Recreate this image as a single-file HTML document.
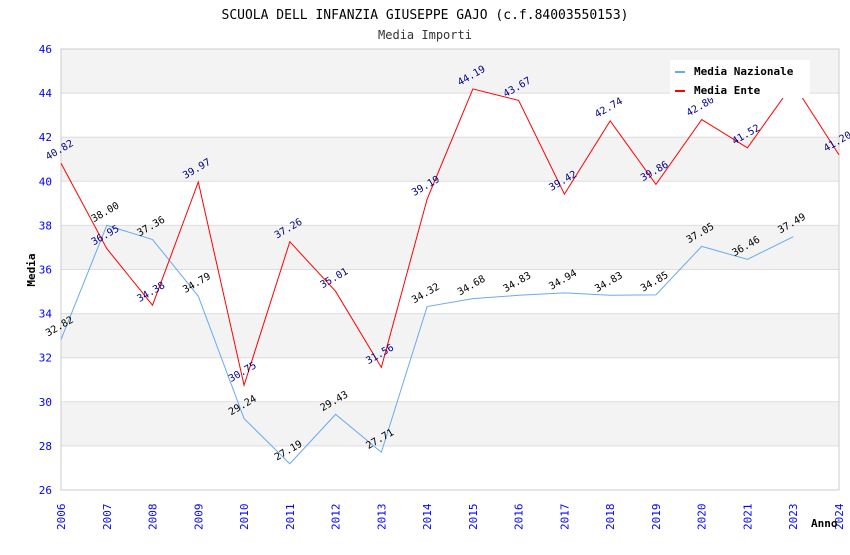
<!DOCTYPE html>
<html><head><meta charset="utf-8"><style>
body{margin:0;background:#fff;width:850px;height:550px;overflow:hidden}
svg text{font-family:"DejaVu Sans Mono","Liberation Mono",monospace}
</style></head><body>
<svg id="chart" width="850" height="550" xmlns="http://www.w3.org/2000/svg">
<text x="425" y="19" text-anchor="middle" font-size="13" fill="#000">SCUOLA DELL INFANZIA GIUSEPPE GAJO (c.f.84003550153)</text>
<text x="425" y="39" text-anchor="middle" font-size="12" fill="#333">Media Importi</text>
<g id="grid"></g><g id="axes"></g><g id="series"></g>
<text transform="translate(35,270) rotate(-90)" text-anchor="middle" font-size="11" font-weight="bold">Media</text>
<text x="811" y="527" font-size="11" font-weight="bold">Anno</text>
<g>
<rect x="670" y="60" width="140" height="38" fill="#fff"/>
<rect x="675" y="71" width="10" height="2" fill="#6aaaf0"/>
<text x="694" y="75" font-size="11" font-weight="bold">Media Nazionale</text>
<rect x="675" y="90" width="10" height="2" fill="#f00"/>
<text x="694" y="94" font-size="11" font-weight="bold">Media Ente</text>
</g>
</svg>
<script>
const categories=["2006","2007","2008","2009","2010","2011","2012","2013","2014","2015","2016","2017","2018","2019","2020","2021","2023","2024"];
const nazionale=[32.82,38.00,37.36,34.79,29.24,27.19,29.43,27.71,34.32,34.68,34.83,34.94,34.83,34.85,37.05,36.46,37.49,null];
const ente=[40.82,36.95,34.38,39.97,30.75,37.26,35.01,31.56,39.19,44.19,43.67,39.42,42.74,39.86,42.80,41.52,44.43,41.20];
const yTicks=[26,28,30,32,34,36,38,40,42,44,46];
const NS="http://www.w3.org/2000/svg";
const X0=61,X1=839,Y0=490,Y1=49,YMIN=26,YMAX=46;
const xs=i=>X0+i*(X1-X0)/(categories.length-1);
const ys=v=>Y0-(v-YMIN)/(YMAX-YMIN)*(Y0-Y1);
function mk(t,a,p){const e=document.createElementNS(NS,t);for(const k in a)e.setAttribute(k,a[k]);p.appendChild(e);return e;}
const grid=document.getElementById('grid'),axes=document.getElementById('axes'),ser=document.getElementById('series');
for(let i=0;i<yTicks.length-1;i++){
  if(i%2==1){const r=mk('rect',{x:X0,y:ys(yTicks[i+1]),width:X1-X0,height:ys(yTicks[i])-ys(yTicks[i+1]),fill:'#f3f3f3'},grid);
  
  }
}
yTicks.forEach(v=>{
  const l=mk('line',{x1:X0,x2:X1,y1:ys(v),y2:ys(v),stroke:'#ddd'},grid);
  
  
  const t=mk('text',{x:X0-9,y:ys(v)+4,'text-anchor':'end','font-size':'11',fill:'#00f'},axes);
  t.textContent=v;
  
  
});
mk('rect',{x:X0,y:Y1,width:X1-X0,height:Y0-Y1,fill:'none',stroke:'#ccc'},axes);
categories.forEach((c,i)=>{
  const t=mk('text',{transform:`translate(${xs(i)+4},${Y0+40}) rotate(-90)`,'font-size':'11',fill:'#00f'},axes);
  t.textContent=c;
  
  
});
function draw(arr,color,lab,name){
  const pts=[];arr.forEach((v,i)=>{if(v!=null)pts.push([xs(i),ys(v),v]);});
  const p=mk('polyline',{points:pts.map(q=>q[0]+','+q[1]).join(' '),fill:'none',stroke:color,'stroke-width':1},ser);
  
  
  pts.forEach(q=>{
    const t=mk('text',{transform:`translate(${q[0]-13},${q[1]-3}) rotate(-30)`,'font-size':'10',fill:lab},ser);
    t.textContent=q[2].toFixed(2);
    
    
  });
}
draw(nazionale,'#6aaaf0','#000','nazionale');
draw(ente,'#f00','#00008b','ente');
</script>
</body></html>
